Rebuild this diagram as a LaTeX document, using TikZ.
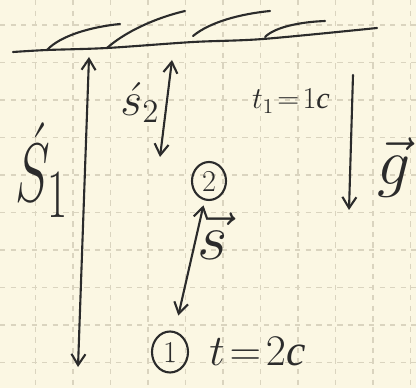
\documentclass[tikz,border=0pt]{standalone}
\usepackage{amsmath}
\usepackage{fontspec}
\newfontfamily\rufont{Liberation Serif}
\usepackage{tikz}
\usetikzlibrary{arrows.meta, positioning, shapes.geometric}
\definecolor{paper}{HTML}{FBF7E3}
\definecolor{gridline}{HTML}{DAD4BF}
\definecolor{pen}{HTML}{2B2B2B}

\begin{document}
\begin{tikzpicture}[
  x=0.02cm, y=-0.02cm,
  >={Straight Barb[length=2.2mm, width=2.8mm]},
  handline/.style={draw=pen, line width=1.2pt, line cap=round, line join=round},
  gridrule/.style={draw=gridline, dashed, line width=0.6pt},
  point/.style={draw=pen, line width=1.2pt, ellipse, inner sep=0pt, minimum width=0.68cm, minimum height=0.76cm, font=\LARGE, text=pen},
  lbl/.style={text=pen, inner sep=0pt},
]

% Paper and grid
\fill[paper] (0,0) rectangle (416,388);
\useasboundingbox (0,0) rectangle (416,388);
\foreach \x in {35.5,73,...,411} \draw[gridrule] (\x,0) -- (\x,388);
\foreach \y in {25,62.5,...,388} \draw[gridrule] (0,\y) -- (416,\y);

% Ceiling with hatching
\draw[handline] plot[smooth] coordinates {(13,52) (47,50) (107,48) (193,42) (263,39) (377,28)};
\draw[handline] (47,50) .. controls (60,36) and (90,27) .. (120,24);
\draw[handline] (107,48) .. controls (125,32) and (155,18) .. (185,11);
\draw[handline] (193,36) .. controls (210,22) and (240,14) .. (270,11);
\draw[handline] (265,37) .. controls (275,27) and (300,22) .. (325,21);

% Arrow ends
\coordinate (s1top) at (89,57);
\coordinate (s1bot) at (78,367);
\coordinate (s2top) at (172,60);
\coordinate (s2bot) at (160,157);
\coordinate (gtop) at (353,75);
\coordinate (gbot) at (349,210);

% Points
\node[point] (p2) at (209,181) {2};
\node[point, minimum width=0.72cm, minimum height=0.82cm] (p1) at (170,352) {1};

% Arrows
\draw[handline, <->] (s1bot) -- (s1top);
\draw[handline, <->] (s2bot) -- (s2top);
\draw[handline, ->] (gtop) -- (gbot);
\draw[handline, <->, shorten <=1mm, shorten >=3.2mm] (p2) -- (p1);

% Labels
\node[lbl, font=\Huge, xscale=1.2, yscale=1.9] (s1lab) at (42,170) {$\acute{S}_1$};
\node[lbl, font=\huge, scale=1.3] (s2lab) at (140,103) {$\acute{s}_2$};
\node[lbl, font=\LARGE] (t1lab) at (291,101) {$t_1\!=\!1${\rufont\itshape с}};
\node[lbl, font=\Huge, scale=1.5] (glab) at (394,168) {$\vec{g}$};
\node[lbl, font=\Huge, scale=1.5] (slab) at (213,236) {$\vec{s}$};
\node[lbl, font=\Huge, right=0.4cm of p1] (t2lab) {$t\!=\!2${\rufont\itshape с}};

\end{tikzpicture}
\end{document}
